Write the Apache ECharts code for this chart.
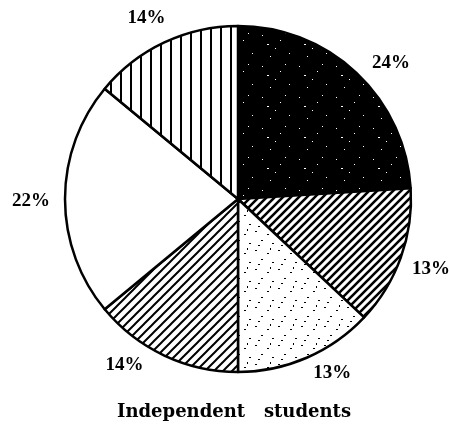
<!DOCTYPE html>
<html>
<head>
    <meta charset="utf-8">
    <script src="https://cdn.jsdelivr.net/npm/echarts@6/dist/echarts.min.js"></script>
</head>
<body>
    <div id="main"></div>
    <style>
html,body { margin: 0; padding: 0; background: #fff; }
#main { width: 449px; height: 425px; }
    </style>
    <script type="text/javascript">
var shares = [24, 13, 13, 14, 22, 14];
var shareNames = ['A', 'B', 'C', 'D', 'E', 'F'];
var chartTitle = 'Independent   students';

// nudges so the labels sit where the printed ones do
var labelNudge = [[2, 0], [-6, 7], [-3, 2], [-11, -3], [3, 2], [11, -12]];

// small tiles used as fill patterns
function tile(w, h, draw) {
    var c = document.createElement('canvas');
    c.width = w; c.height = h;
    var ctx = c.getContext('2d');
    draw(ctx, w, h);
    return { image: c, repeat: 'repeat' };
}
function diag(width) {
    return function (ctx, w, h) {
        ctx.fillStyle = '#fff';
        ctx.fillRect(0, 0, w, h);
        ctx.strokeStyle = '#000';
        ctx.lineWidth = width;
        ctx.beginPath();
        ctx.moveTo(-w, 2 * h); ctx.lineTo(2 * w, -h);
        ctx.moveTo(-w, h); ctx.lineTo(w, -h);
        ctx.moveTo(0, 2 * h); ctx.lineTo(2 * w, 0);
        ctx.stroke();
    };
}
var speckBlack = tile(37, 31, function (ctx, w, h) {
    ctx.fillStyle = '#000';
    ctx.fillRect(0, 0, w, h);
    ctx.fillStyle = '#fff';
    [[3, 4], [21, 9], [30, 22], [11, 25], [26, 2], [16, 17]].forEach(function (p) {
        ctx.fillRect(p[0], p[1], 1, 1);
    });
    ctx.fillRect(8, 13, 2, 1);
});
var speckWhite = tile(23, 19, function (ctx, w, h) {
    ctx.fillStyle = '#fff';
    ctx.fillRect(0, 0, w, h);
    ctx.fillStyle = '#000';
    [[2, 3], [14, 6], [8, 12], [19, 15], [5, 17]].forEach(function (p) {
        ctx.fillRect(p[0], p[1], 2, 1);
    });
    ctx.fillRect(17, 1, 1, 2);
});
var hatchA = tile(8, 8, diag(2.6));
var hatchB = tile(9, 9, diag(2));
var stripes = tile(10, 10, function (ctx, w, h) {
    ctx.fillStyle = '#fff';
    ctx.fillRect(0, 0, w, h);
    ctx.fillStyle = '#000';
    ctx.fillRect(0, 0, 2, h);
});
var fills = [speckBlack, hatchA, speckWhite, hatchB, '#fff', stripes];

var chart = echarts.init(document.getElementById('main'));
chart.setOption({
    animation: false,
    title: {
        text: chartTitle,
        left: 112,
        top: 398,
        textStyle: {
            fontFamily: 'DejaVu Serif',
            fontWeight: 'bold',
            fontSize: 18,
            color: '#000'
        }
    },
    series: [{
        type: 'pie',
        center: [238, 199],
        radius: 173,
        startAngle: 90,
        clockwise: true,
        avoidLabelOverlap: false,
        emphasis: { disabled: true },
        data: shares.map(function (v, i) {
            return {
                name: shareNames[i],
                value: v,
                itemStyle: { color: fills[i] },
                label: { offset: labelNudge[i] }
            };
        }),
        itemStyle: {
            borderColor: '#000',
            borderWidth: 2.5
        },
        label: {
            show: true,
            position: 'outside',
            formatter: '{c}%',
            distanceToLabelLine: 4,
            fontFamily: 'Liberation Serif',
            fontWeight: 'bold',
            fontSize: 19,
            color: '#000'
        },
        labelLine: { show: false, length: 14, length2: 0 }
    }]
});
    </script>
</body>
</html>
